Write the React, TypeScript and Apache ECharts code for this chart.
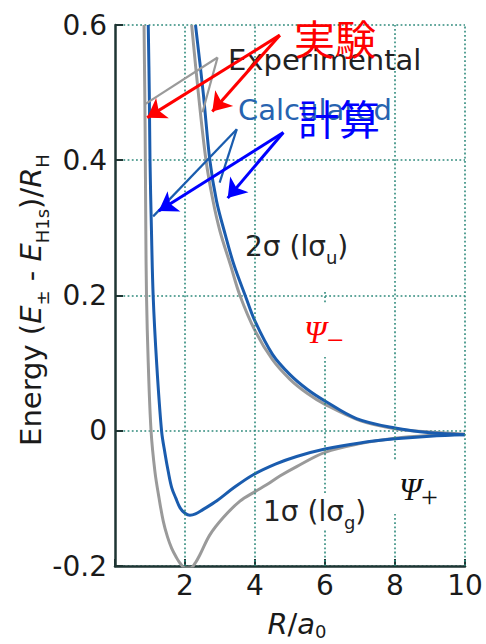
import React, { useEffect, useRef } from 'react';
import * as echarts from 'echarts';

// ---- axes ----
const xMin = 0;
const xMax = 10;
const xStep = 2;
const yMin = -0.2;
const yMax = 0.6;
const yStep = 0.2;
const xTickLabels = ['', '2', '4', '6', '8', '10'];
const yTickLabels = ['-0.2', '0', '0.2', '0.4', '0.6'];

// ---- Experimental, Psi+ (1 sigma) ----
const expPlusX = [0.83, 0.86, 0.88, 0.9, 0.95, 1.03, 1.14, 1.26, 1.38, 1.5, 1.62, 1.75, 1.86, 2.0, 2.15, 2.3, 2.43, 2.71, 3.1, 3.57, 4.0, 4.33, 4.71, 5.19, 6.0, 7.0, 8.0, 9.0, 10.0];
const expPlusY = [0.6, 0.45, 0.3, 0.2, 0.1, 0.0, -0.06, -0.1, -0.134, -0.157, -0.174, -0.187, -0.196, -0.203, -0.203, -0.195, -0.183, -0.154, -0.128, -0.104, -0.09, -0.08, -0.067, -0.053, -0.032, -0.019, -0.011, -0.007, -0.005];

// ---- Calculated, Psi+ ----
const calcPlusX = [0.95, 0.98, 1.0, 1.04, 1.09, 1.19, 1.33, 1.43, 1.52, 1.62, 1.74, 1.86, 2.0, 2.14, 2.3, 2.5, 2.9, 3.4, 3.95, 4.6, 5.19, 6.0, 7.0, 8.0, 9.0, 10.0];
const calcPlusY = [0.6, 0.5, 0.4, 0.3, 0.2, 0.1, 0.0, -0.034, -0.06, -0.084, -0.1, -0.114, -0.122, -0.125, -0.123, -0.117, -0.104, -0.084, -0.065, -0.049, -0.038, -0.027, -0.018, -0.012, -0.008, -0.006];

// ---- Experimental, Psi- (2 sigma) ----
const expMinusX = [2.19, 2.38, 2.6, 2.8, 3.0, 3.3, 3.57, 4.0, 4.5, 5.0, 5.5, 6.0, 7.0, 8.0, 9.0, 10.0];
const expMinusY = [0.6, 0.5, 0.4, 0.34, 0.295, 0.245, 0.2, 0.148, 0.105, 0.076, 0.055, 0.039, 0.015, 0.003, -0.002, -0.005];

// ---- Calculated, Psi- ----
const calcMinusX = [2.3, 2.52, 2.71, 2.9, 3.15, 3.4, 3.72, 4.0, 4.5, 5.0, 5.5, 6.0, 6.9, 8.0, 9.0, 10.0];
const calcMinusY = [0.6, 0.5, 0.4, 0.34, 0.29, 0.245, 0.2, 0.162, 0.113, 0.083, 0.061, 0.044, 0.018, 0.004, -0.003, -0.006];

// ---- vertical grid segments [x, yFrom, yTo] ----
const vGrid = [
  [2, -0.2, 0.6],
  [4, -0.2, 0.6],
  [6, -0.2, -0.146],
  [6, -0.092, 0.109],
  [6, 0.19, 0.208],
  [8, -0.2, -0.123],
  [8, -0.042, 0.6],
  [10, -0.2, 0.6],
];

// ---- annotation leader lines [x1, y1, x2, y2] (data units) ----
const expLeaders = [
  [2.93, 0.552, 0.86, 0.483],
  [2.93, 0.552, 2.5, 0.471],
];
const calcLeaders = [
  [3.48, 0.446, 1.09, 0.317],
  [3.48, 0.446, 2.99, 0.367],
];
const redArrows = [
  [4.71, 0.585, 0.92, 0.463],
  [4.71, 0.585, 2.78, 0.472],
];
const blueArrows = [
  [4.81, 0.441, 1.25, 0.325],
  [4.81, 0.441, 3.22, 0.344],
];

const zip = (xs: number[], ys: number[]) => xs.map((x, i) => [x, ys[i]]);
const segs = (arr: number[][]) => arr.map((a) => [{ coord: [a[0], a[1]] }, { coord: [a[2], a[3]] }]);

const GRID = '#2f8a7c';
const AXIS = '#1e3533';
const GRAY = '#9a9a9a';
const BLUE = '#1a5cae';
const SANS = 'DejaVu Sans';

export default function App() {
  const ref = useRef<HTMLDivElement>(null);
  useEffect(() => {
    if (!ref.current) return;
    const chart = echarts.init(ref.current, null, { renderer: 'svg' });
    const curve = (name: string, data: number[][], color: string, z: number) => ({
      name,
      type: 'line',
      data,
      z,
      showSymbol: false,
      symbol: 'none',
      smooth: 0.35,
      clip: true,
      lineStyle: { color, width: 3 },
      silent: true,
    });
    const lineSet = (data: number[][], color: string, width: number, arrow: boolean, z: number) => ({
      type: 'line',
      data: [],
      z,
      silent: true,
      markLine: {
        silent: true,
        animation: false,
        symbol: arrow ? ['none', 'arrow'] : ['none', 'none'],
        symbolSize: arrow ? 18 : 1,
        label: { show: false },
        emphasis: { disabled: true },
        itemStyle: { color },
        lineStyle: { color, width, type: 'solid' },
        data: segs(data),
      },
    });
    const sub = { fontSize: 18, lineHeight: 18, verticalAlign: 'bottom', fontFamily: SANS };
    chart.setOption({
      animation: false,
      backgroundColor: '#ffffff',
      grid: { left: 115, right: 21, top: 25, bottom: 78, containLabel: false },
      xAxis: {
        type: 'value',
        min: xMin,
        max: xMax,
        interval: xStep,
        axisLine: { onZero: false, lineStyle: { color: AXIS, width: 2.5 } },
        axisTick: { inside: true, length: 7, lineStyle: { color: AXIS, width: 2 } },
        axisLabel: {
          margin: 5,
          color: '#1a1a1a',
          fontFamily: SANS,
          fontSize: 28,
          formatter: (v: number) => xTickLabels[Math.round((v - xMin) / xStep)] ?? '',
        },
        splitLine: { show: false },
      },
      yAxis: {
        type: 'value',
        min: yMin,
        max: yMax,
        interval: yStep,
        axisLine: { show: true, lineStyle: { color: AXIS, width: 2.5 } },
        axisTick: { show: true, inside: true, length: 8, lineStyle: { color: AXIS, width: 2 } },
        axisLabel: {
          margin: 8,
          color: '#1a1a1a',
          fontFamily: SANS,
          fontSize: 28,
          formatter: (v: number) => yTickLabels[Math.round((v - yMin) / yStep)] ?? '',
        },
        splitLine: { show: true, lineStyle: { color: GRID, width: 1.6, type: [1.8, 2.4] } },
      },
      series: [
        {
          type: 'line',
          data: [],
          z: 1,
          silent: true,
          markLine: {
            silent: true,
            animation: false,
            symbol: ['none', 'none'],
            label: { show: false },
            emphasis: { disabled: true },
            lineStyle: { color: GRID, width: 1.6, type: [1.8, 2.4] },
            data: vGrid.map((g) => [{ coord: [g[0], g[1]] }, { coord: [g[0], g[2]] }]),
          },
        },
        lineSet(expLeaders, GRAY, 2.2, false, 2),
        lineSet(calcLeaders, BLUE, 2.2, false, 2),
        curve('Experimental Ψ+', zip(expPlusX, expPlusY), GRAY, 3),
        curve('Experimental Ψ−', zip(expMinusX, expMinusY), GRAY, 3),
        curve('Calculated Ψ+', zip(calcPlusX, calcPlusY), BLUE, 4),
        curve('Calculated Ψ−', zip(calcMinusX, calcMinusY), BLUE, 4),
        lineSet(redArrows, '#ff0000', 3, true, 6),
        lineSet(blueArrows, '#0000ff', 3, true, 6),
      ],
      graphic: [
        {
          type: 'text', x: 228, y: 60, z: 5,
          style: { text: 'Experimental', fill: '#222222', font: `29px "${SANS}"`, align: 'left', verticalAlign: 'middle' },
        },
        {
          type: 'text', x: 238, y: 110, z: 5,
          style: { text: 'Calculated', fill: '#2763b0', font: `29px "${SANS}"`, align: 'left', verticalAlign: 'middle' },
        },
        {
          type: 'text', x: 335, y: 37, z: 10,
          style: { text: '実験', fill: '#ff0000', font: '41px "Noto Sans CJK JP"', align: 'center', verticalAlign: 'middle' },
        },
        {
          type: 'text', x: 339, y: 117, z: 10,
          style: { text: '計算', fill: '#0000ff', font: '41px "Noto Sans CJK JP"', align: 'center', verticalAlign: 'middle' },
        },
        {
          type: 'text', x: 245, y: 246, z: 5,
          style: {
            text: '2σ (lσ{s|u})', fill: '#222222', font: `28px "${SANS}"`, lineHeight: 40,
            align: 'left', verticalAlign: 'middle', rich: { s: sub },
          },
        },
        {
          type: 'text', x: 263, y: 511, z: 5,
          style: {
            text: '1σ (lσ{s|g})', fill: '#222222', font: `28px "${SANS}"`, lineHeight: 40,
            align: 'left', verticalAlign: 'middle', rich: { s: sub },
          },
        },
        {
          type: 'text', x: 304, y: 332, z: 5,
          style: { text: 'Ψ', fill: '#ff0000', font: 'italic 32px "Liberation Serif"', align: 'left', verticalAlign: 'middle' },
        },
        {
          type: 'text', x: 327, y: 339, z: 5,
          style: { text: '−', fill: '#ff0000', font: '30px "Liberation Serif"', align: 'left', verticalAlign: 'middle' },
        },
        {
          type: 'text', x: 399, y: 489, z: 5,
          style: { text: 'Ψ', fill: '#111111', font: 'italic 32px "Liberation Serif"', align: 'left', verticalAlign: 'middle' },
        },
        {
          type: 'text', x: 421, y: 496, z: 5,
          style: { text: '+', fill: '#111111', font: '30px "Liberation Serif"', align: 'left', verticalAlign: 'middle' },
        },
        {
          type: 'text', x: 31, y: 300, z: 5, rotation: Math.PI / 2,
          style: {
            text: 'Energy ({i|E}{s|±} - {i|E}{s|H1s})/{i|R}{s|H}',
            fill: '#1a1a1a', font: `29px "${SANS}"`, lineHeight: 40,
            align: 'center', verticalAlign: 'middle',
            rich: {
              i: { fontStyle: 'italic', fontSize: 29, lineHeight: 40, fontFamily: SANS },
              s: sub,
            },
          },
        },
        {
          type: 'text', x: 297, y: 624, z: 5,
          style: {
            text: '{i|R}/{i|a}{s|0}',
            fill: '#1a1a1a', font: `29px "${SANS}"`, lineHeight: 32,
            align: 'center', verticalAlign: 'middle',
            rich: {
              i: { fontStyle: 'italic', fontSize: 29, lineHeight: 32, fontFamily: SANS },
              s: { fontSize: 18, lineHeight: 16, verticalAlign: 'bottom', fontFamily: SANS },
            },
          },
        },
      ],
    });
    return () => chart.dispose();
  }, []);
  return (
    <div
      ref={ref}
      style={{ position: 'absolute', left: 0, top: 0, width: 486, height: 644, background: '#fff' }}
    />
  );
}
